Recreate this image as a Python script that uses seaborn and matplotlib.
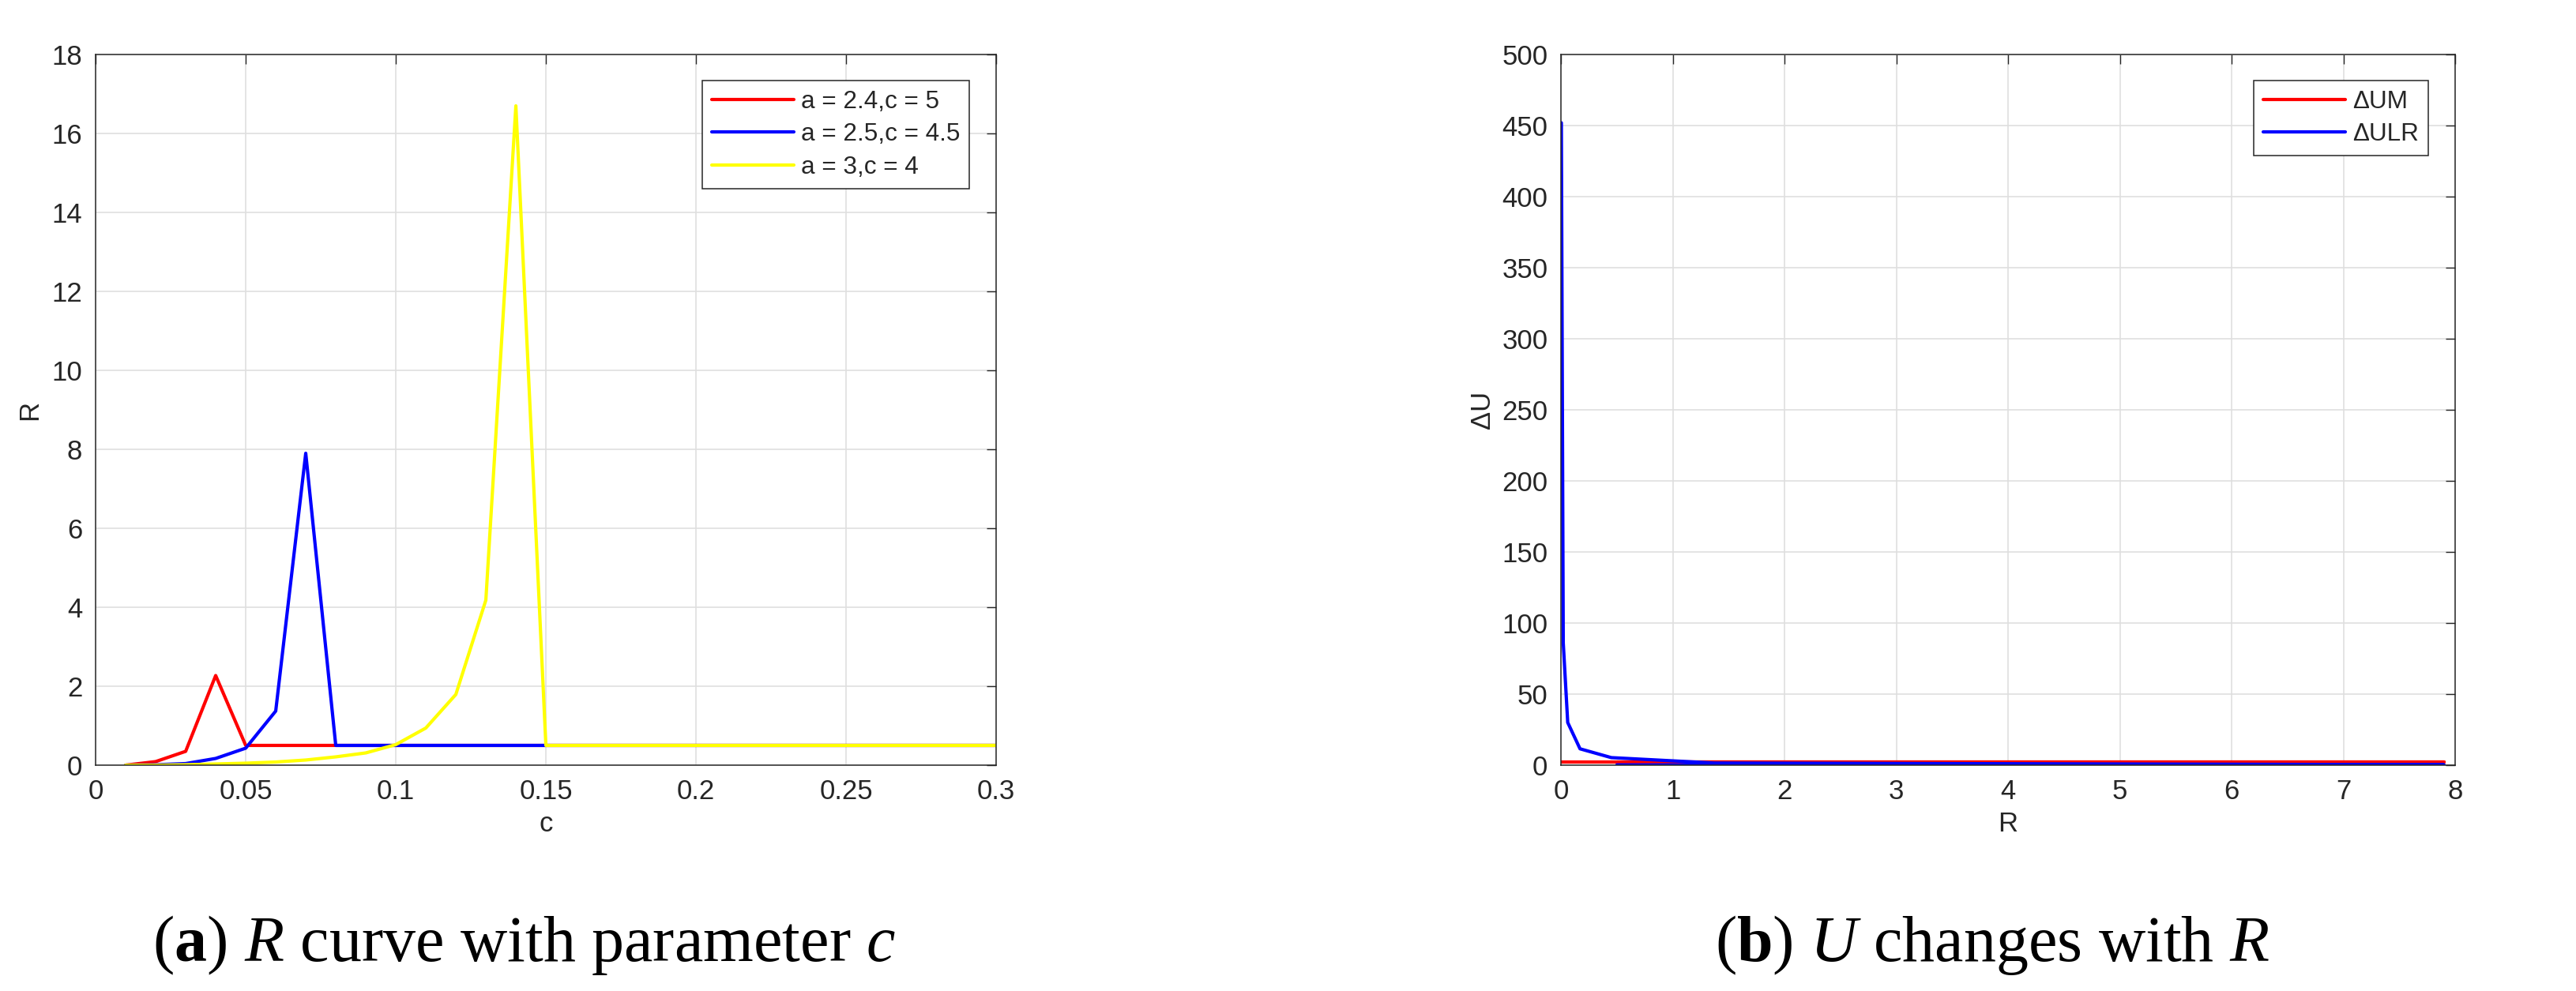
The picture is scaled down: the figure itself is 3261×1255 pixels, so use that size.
import matplotlib
matplotlib.use("Agg")
import matplotlib.pyplot as plt
from matplotlib.ticker import FormatStrFormatter
import pandas as pd
import seaborn as sns

# left panel: R against c
c_values = [0.01, 0.02, 0.03, 0.04, 0.05, 0.06, 0.07, 0.08, 0.09, 0.10,
            0.11, 0.12, 0.13, 0.14, 0.15, 0.16, 0.17, 0.18, 0.19, 0.20,
            0.21, 0.22, 0.23, 0.24, 0.25, 0.26, 0.27, 0.28, 0.29, 0.30]
R_a24 = [0.0, 0.09, 0.35, 2.27, 0.5, 0.5, 0.5, 0.5, 0.5, 0.5,
         0.5, 0.5, 0.5, 0.5, 0.5, 0.5, 0.5, 0.5, 0.5, 0.5,
         0.5, 0.5, 0.5, 0.5, 0.5, 0.5, 0.5, 0.5, 0.5, 0.5]
R_a25 = [0.0, 0.01, 0.04, 0.17, 0.43, 1.37, 7.9, 0.5, 0.5, 0.5,
         0.5, 0.5, 0.5, 0.5, 0.5, 0.5, 0.5, 0.5, 0.5, 0.5,
         0.5, 0.5, 0.5, 0.5, 0.5, 0.5, 0.5, 0.5, 0.5, 0.5]
R_a3 = [0.0, 0.0, 0.01, 0.03, 0.05, 0.08, 0.13, 0.21, 0.31, 0.52,
        0.94, 1.79, 4.18, 16.7, 0.5, 0.5, 0.5, 0.5, 0.5, 0.5,
        0.5, 0.5, 0.5, 0.5, 0.5, 0.5, 0.5, 0.5, 0.5, 0.5]
left_labels = ["a = 2.4,c = 5", "a = 2.5,c = 4.5", "a = 3,c = 4"]

# right panel: delta U against R (R in run order, not sorted)
R_run = [0.003, 0.02, 0.06, 0.17, 0.45, 1.37, 7.9, 0.5, 0.5, 0.5,
         0.5, 0.5, 0.5, 0.5, 0.5, 0.5, 0.5, 0.5, 0.5, 0.5]
dU_M = [2.0, 2.0, 2.0, 2.0, 2.0, 2.0, 2.0, 2.0, 2.0, 2.0,
        2.0, 2.0, 2.0, 2.0, 2.0, 2.0, 2.0, 2.0, 2.0, 2.0]
dU_LR = [452, 86, 30, 11.5, 5.3, 1.5, 0.3, 0.2, 0.2, 0.2,
         0.2, 0.2, 0.2, 0.2, 0.2, 0.2, 0.2, 0.2, 0.2, 0.2]
right_labels = ["\u0394UM", "\u0394ULR"]

sns.set_theme(style="white")
plt.rcParams["font.family"] = ["Liberation Sans", "DejaVu Sans"]
plt.rcParams["mathtext.fontset"] = "custom"
plt.rcParams["mathtext.rm"] = "Liberation Serif"
plt.rcParams["mathtext.it"] = "Liberation Serif:italic"
plt.rcParams["mathtext.bf"] = "Liberation Serif:bold"

TXT = "#262626"
GRID = "#dfdfdf"
LW = 3.0

left_df = pd.DataFrame({
    "c": c_values * 3,
    "R": R_a24 + R_a25 + R_a3,
    "curve": [left_labels[0]] * 30 + [left_labels[1]] * 30 + [left_labels[2]] * 30,
})
right_df = pd.DataFrame({
    "R": R_run * 2,
    "dU": dU_M + dU_LR,
    "curve": [right_labels[0]] * len(R_run) + [right_labels[1]] * len(R_run),
})

fig = plt.figure(figsize=(32.62, 12.55), dpi=100)
ax1 = fig.add_axes([0.0371, 0.2279, 0.3495, 0.7171])
ax2 = fig.add_axes([0.6058, 0.2279, 0.3470, 0.7171])

sns.lineplot(data=left_df, x="c", y="R", hue="curve", sort=False,
             palette=["#ff0000", "#0000ff", "#ffff00"], linewidth=LW, ax=ax1)
sns.lineplot(data=right_df, x="R", y="dU", hue="curve", sort=False,
             palette=["#ff0000", "#0000ff"], linewidth=LW, ax=ax2)

ax1.set_xlim(0, 0.3)
ax1.set_ylim(0, 18)
ax1.set_xticks([0, 0.05, 0.1, 0.15, 0.2, 0.25, 0.3])
ax1.set_yticks(range(0, 19, 2))
ax1.xaxis.set_major_formatter(FormatStrFormatter("%g"))
ax1.set_xlabel("c", fontsize=25, color=TXT, labelpad=6)
ax1.set_ylabel("R", fontsize=25, color=TXT, labelpad=8)

ax2.set_xlim(0, 8)
ax2.set_ylim(0, 500)
ax2.set_xticks(range(0, 9))
ax2.set_yticks(range(0, 501, 50))
ax2.set_xlabel("R", fontsize=25, color=TXT, labelpad=6)
ax2.set_ylabel("\u0394U", fontsize=25, color=TXT, labelpad=6)

for ax in (ax1, ax2):
    ax.grid(True, color=GRID, linewidth=1.2)
    ax.set_axisbelow(True)
    for sp in ax.spines.values():
        sp.set_visible(True)
        sp.set_color(TXT)
        sp.set_linewidth(1.1)
    ax.tick_params(direction="in", top=True, right=True, length=8.5, width=1.0,
                   colors=TXT, labelsize=25, pad=12)
    w = ax.get_position().width * 3262
    h = ax.get_position().height * 1255
    leg = ax.legend(loc="upper right", bbox_to_anchor=(1 - 34 / w, 1 - 33 / h),
                    borderaxespad=0, fontsize=22.7, fancybox=False, framealpha=1,
                    edgecolor=TXT, handlelength=3.3, labelspacing=0.36,
                    borderpad=0.38, handletextpad=0.28)
    leg.get_frame().set_linewidth(1.1)
    for line in leg.get_lines():
        line.set_linewidth(LW)

fig.text(0.2035, 0.0303, r"($\mathbf{a}$) $R$ curve with parameter $c$",
         fontsize=59, family="Liberation Serif", color="black",
         ha="center", va="baseline")
fig.text(0.7731, 0.0303, r"($\mathbf{b}$) $U$ changes with $R$",
         fontsize=59, family="Liberation Serif", color="black",
         ha="center", va="baseline")

fig.savefig("out.png", dpi=100)
plt.close(fig)
